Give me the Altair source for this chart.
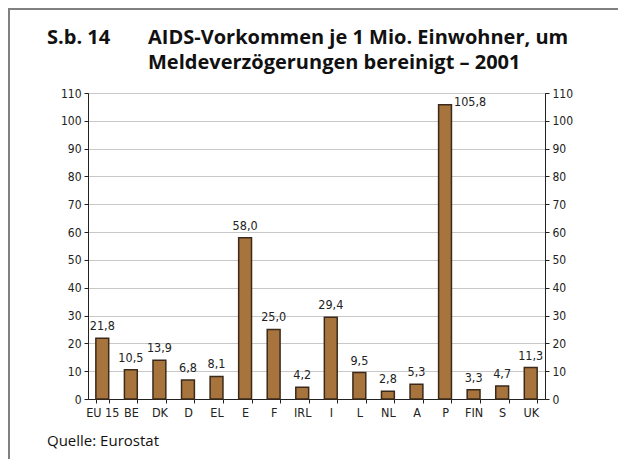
import altair as alt
import pandas as pd

countries = ["EU 15", "BE", "DK", "D", "EL", "E", "F", "IRL", "I", "L", "NL", "A", "P", "FIN", "S", "UK"]
values = [21.8, 10.5, 13.9, 6.8, 8.1, 58.0, 25.0, 4.2, 29.4, 9.5, 2.8, 5.3, 105.8, 3.3, 4.7, 11.3]
labels = [f"{v:.1f}".replace(".", ",") for v in values]
y_ticks = list(range(0, 111, 10))

df = pd.DataFrame({"land": countries, "wert": values, "label": labels})

FONT = "DejaVu Sans Condensed, Liberation Sans Narrow, DejaVu Sans"
TFONT = "Open Sans"

x_enc = alt.X("land:N", sort=countries, title=None,
              scale=alt.Scale(paddingInner=0.55, paddingOuter=0.275),
              axis=alt.Axis(labelAngle=0, tickBand="extent", domainColor="#222",
                            tickColor="#222", tickSize=4, labelFontSize=12.5,
                            labelFont=FONT, labelColor="#222", labelPadding=3, grid=False))
x_plain = alt.X("land:N", sort=countries, title=None)
y_scale = alt.Scale(domain=[0, 110], nice=False)

base = alt.Chart(df)

bars = base.mark_bar(color="#A8743E", stroke="#3b2a1a", strokeWidth=1.5).encode(
    x=x_enc,
    y=alt.Y("wert:Q", scale=y_scale, title=None,
            axis=alt.Axis(values=y_ticks, orient="left", grid=True, gridColor="#c8c8c8",
                          domainColor="#222", tickColor="#222", tickSize=4,
                          labelFontSize=12, labelFont=FONT, labelColor="#222", labelPadding=3)),
)

right_axis = base.mark_point(opacity=0).encode(
    x=x_plain,
    y=alt.Y("wert:Q", scale=y_scale, title=None,
            axis=alt.Axis(values=y_ticks, orient="right", grid=False,
                          domainColor="#222", tickColor="#222", tickSize=4,
                          labelFontSize=12, labelFont=FONT, labelColor="#222", labelPadding=3)),
)

txt = base.transform_filter(alt.datum.land != "P").mark_text(
    baseline="bottom", dy=-5, fontSize=12.5, font=FONT, color="#222"
).encode(x=x_plain, y=alt.Y("wert:Q", scale=y_scale, axis=None), text="label:N")

txt_p = base.transform_filter(alt.datum.land == "P").mark_text(
    baseline="middle", align="left", dx=9, dy=-3, fontSize=12.5, font=FONT, color="#222"
).encode(x=x_plain, y=alt.Y("wert:Q", scale=y_scale, axis=None), text="label:N")

def label(t, x, y, size, weight="normal"):
    return alt.Chart(pd.DataFrame({"t": [t]})).mark_text(
        align="left", baseline="alphabetic", fontSize=size, fontWeight=weight, font=TFONT, color="#111"
    ).encode(x=alt.value(x), y=alt.value(y), text="t:N")

title1 = label("S.b. 14", -41, -49, 20, "bold")
title2 = label("AIDS-Vorkommen je 1 Mio. Einwohner, um", 60, -49, 20, "bold")
title3 = label("Meldeverzögerungen bereinigt – 2001", 60, -24, 20, "bold")
source = label("Quelle: Eurostat", -41, 353, 15)

frame_top = alt.Chart(pd.DataFrame({"a": [0]})).mark_rule(color="#808080", strokeWidth=2).encode(
    x=alt.value(-80), x2=alt.value(530), y=alt.value(-84)
)
frame_left = alt.Chart(pd.DataFrame({"a": [0]})).mark_rule(color="#808080", strokeWidth=2).encode(
    x=alt.value(-79), y=alt.value(-85), y2=alt.value(366)
)

chart = alt.layer(bars, right_axis, txt, txt_p, title1, title2, title3, source, frame_top, frame_left).resolve_axis(
    y="independent"
).properties(
    width=457, height=306,
    autosize=alt.AutoSizeParams(type="none"),
    padding={"left": 80, "top": 85, "right": 73, "bottom": 60},
    background="white",
).configure_view(stroke="#222", strokeWidth=1)

chart.save("out.html", embed_options={"renderer": "svg", "actions": False})
